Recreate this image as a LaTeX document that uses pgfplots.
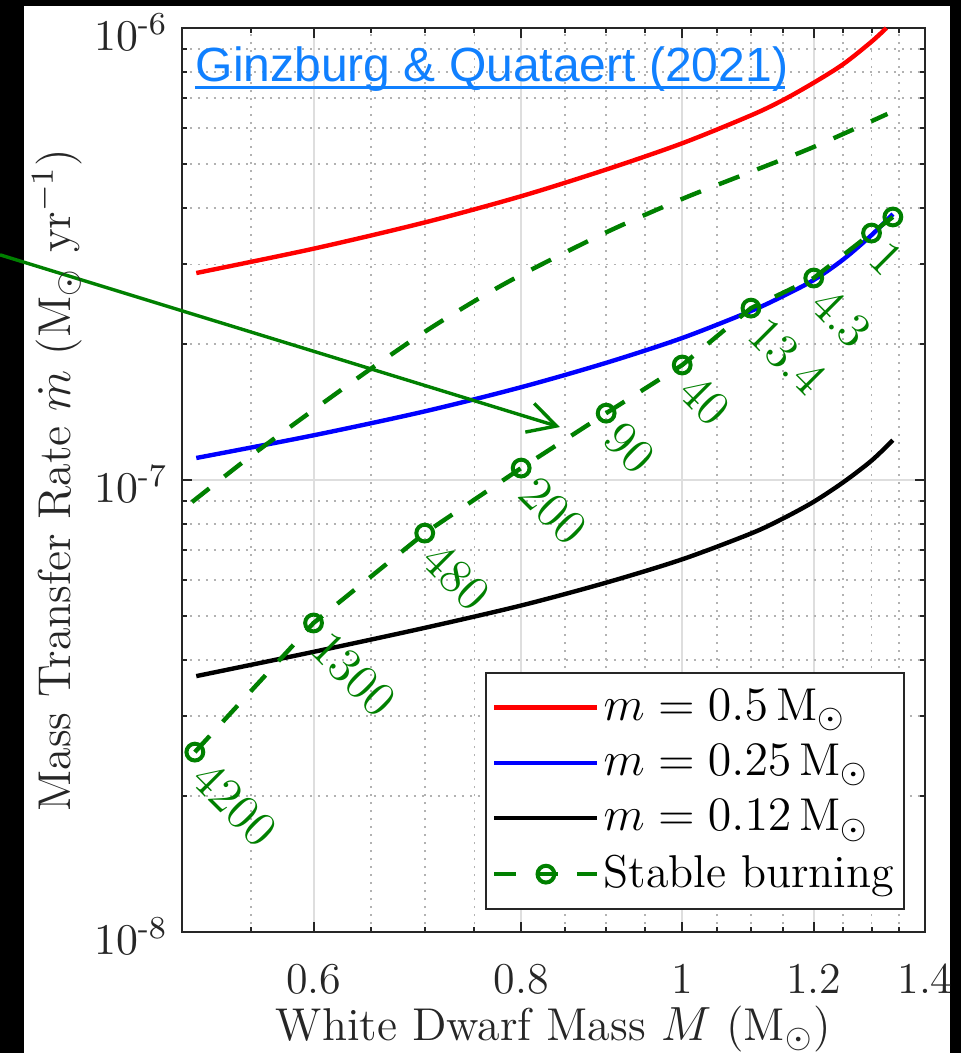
\documentclass[border=0pt]{standalone}
\usepackage{amsmath}
\usepackage{fontspec}
\usepackage{pgfplots}
\pgfplotsset{compat=1.18}
\usepackage{pgfplotstable}
\usetikzlibrary{arrows.meta}
\newfontfamily\titlefont{Liberation Sans}
\definecolor{mgreen}{rgb}{0,0.5,0}
\definecolor{linkblue}{RGB}{16,128,255}
\definecolor{axgray}{RGB}{38,38,38}

% m = 0.5 Msun
\pgfplotstableread{
M mdot
0.510 2.871e-7
0.600 3.250e-7
0.700 3.715e-7
0.800 4.246e-7
0.900 4.864e-7
1.000 5.560e-7
1.100 6.410e-7
1.150 6.930e-7
1.200 7.570e-7
1.250 8.320e-7
1.300 9.330e-7
1.327 1.000e-6
}\redcurve
% m = 0.25 Msun
\pgfplotstableread{
M mdot
0.510 1.119e-7
0.600 1.256e-7
0.700 1.419e-7
0.800 1.605e-7
0.900 1.817e-7
1.000 2.062e-7
1.100 2.366e-7
1.150 2.553e-7
1.200 2.771e-7
1.250 3.076e-7
1.300 3.483e-7
1.339 3.878e-7
}\bluecurve
% m = 0.12 Msun
\pgfplotstableread{
M mdot
0.510 3.684e-8
0.600 4.168e-8
0.700 4.710e-8
0.800 5.278e-8
0.900 5.930e-8
1.000 6.678e-8
1.100 7.617e-8
1.150 8.222e-8
1.200 8.954e-8
1.250 9.886e-8
1.300 1.104e-7
1.339 1.225e-7
}\blackcurve
% upper stable burning limit
\pgfplotstableread{
M mdot
0.507 8.940e-8
0.550 1.130e-7
0.600 1.430e-7
0.650 1.766e-7
0.700 2.128e-7
0.750 2.489e-7
0.800 2.844e-7
0.900 3.532e-7
1.000 4.188e-7
1.100 4.808e-7
1.200 5.458e-7
1.329 6.457e-7
}\upperburn
% stable burning with labels
\pgfplotstableread{
M mdot label
0.509 2.501e-8 4200
0.600 4.828e-8 1300
0.700 7.633e-8 480
0.800 1.063e-7 200
0.900 1.406e-7 90
1.000 1.797e-7 40
1.100 2.401e-7 13.4
1.200 2.799e-7 4.3
1.300 3.520e-7 1
1.339 3.820e-7 {}
}\burnpts

\begin{document}
\begin{tikzpicture}
\fill[black] (0,0) rectangle (240.25pt,263.25pt);
\fill[white] (6pt,0) rectangle (237.5pt,261.75pt);
\begin{axis}[
    at={(45.5pt,30.25pt)}, anchor=south west,
    scale only axis,
    width=185.75pt, height=226pt,
    xmode=log, ymode=log,
    xmin=0.5, xmax=1.4,
    ymin=1e-8, ymax=1e-6,
    xtick={0.6,0.8,1,1.2,1.4},
    xticklabels={0.6,0.8,1,1.2,1.4},
    minor xtick={0.55,0.65,0.7,0.75,0.85,0.9,0.95,1.05,1.1,1.15,1.25,1.3,1.35},
    ytick={1e-8,1e-7,1e-6},
    yticklabels={$10^{\textrm{-}8}$,$10^{\textrm{-}7}$,$10^{\textrm{-}6}$},
    minor ytick={2e-8,3e-8,4e-8,5e-8,6e-8,7e-8,8e-8,9e-8,2e-7,3e-7,4e-7,5e-7,6e-7,7e-7,8e-7,9e-7},
    tick align=inside,
    major tick length=2.5pt, minor tick length=1.3pt,
    tick style={axgray, line width=0.5pt},
    axis line style={axgray, line width=0.6pt},
    grid=both,
    major grid style={black!13, line width=0.5pt, solid},
    minor grid style={black!30, line width=0.45pt, dash pattern=on 0.5pt off 1.5pt},
    tick label style={font=\fontsize{11}{13}\selectfont, text=axgray},
    xticklabel style={yshift=-4.5pt},
    yticklabel style={yshift=-1pt},
    xlabel={White Dwarf Mass $M$ (M$_\odot$)},
    ylabel={Mass Transfer Rate $\dot{m}$ (M$_\odot$ yr$^{-1}$)},
    label style={font=\fontsize{11.5}{13}\selectfont, text=axgray},
    xlabel style={at={(axis description cs:0.5,-0.1195)}, anchor=base},
    ylabel style={at={(axis description cs:-0.168,0.5)}, anchor=center},
    clip=false,
    legend style={at={(0.973,0.024)}, anchor=south east, draw=axgray,
        line width=0.5pt, fill=white, font=\fontsize{11.5}{13}\selectfont,
        inner xsep=1.5pt, inner ysep=2pt, row sep=0.5pt,
        nodes={inner xsep=1pt, inner ysep=2pt}},
    legend cell align=left,
    legend image code/.code={\draw[mark repeat=2,mark phase=2,#1] plot coordinates {(0pt,0pt) (12.875pt,0pt) (25.75pt,0pt)};},
]
\addplot[red, line width=1.1pt, smooth] table[x=M, y=mdot] {\redcurve};
\addlegendentry{$m = 0.5\,\mathrm{M}_\odot$}
\addplot[blue, line width=1.1pt, smooth] table[x=M, y=mdot] {\bluecurve};
\addlegendentry{$m = 0.25\,\mathrm{M}_\odot$}
\addplot[black, line width=1.1pt, smooth] table[x=M, y=mdot] {\blackcurve};
\addlegendentry{$m = 0.12\,\mathrm{M}_\odot$}
\addplot[mgreen, line width=1.1pt, dash pattern=on 5.5pt off 4.8pt,
    mark=o, mark size=2.1pt, mark options={solid, line width=1pt},
    nodes near coords, point meta=explicit symbolic,
    every node near coord/.append style={xshift=4.5pt, yshift=0pt, rotate=-45,
        anchor=north west, inner sep=0.5pt, text=mgreen,
        font=\fontsize{12.3}{14}\selectfont}]
    table[x=M, y=mdot, meta=label] {\burnpts};
\addlegendentry{Stable burning}
\addplot[mgreen, line width=1.1pt, dash pattern=on 5.5pt off 4.8pt, smooth, forget plot]
    table[x=M, y=mdot] {\upperburn};
\addplot[mgreen, line width=0.85pt, -{Straight Barb[length=7pt, width=7.5pt]}, forget plot]
    coordinates {(0.3886,3.15e-7) (0.8442,1.31e-7)};
\end{axis}
\node[anchor=base west, inner sep=0, text=linkblue,
    font=\titlefont\fontsize{12}{14}\selectfont] at (48.75pt,242.75pt)
    {Ginzburg \& Quataert (2021)};
\draw[linkblue, line width=0.75pt] (48.75pt,241.25pt) -- (196.25pt,241.25pt);
\pgfresetboundingbox
\useasboundingbox (0,0) rectangle (240.25pt,263.25pt);
\end{tikzpicture}
\end{document}
